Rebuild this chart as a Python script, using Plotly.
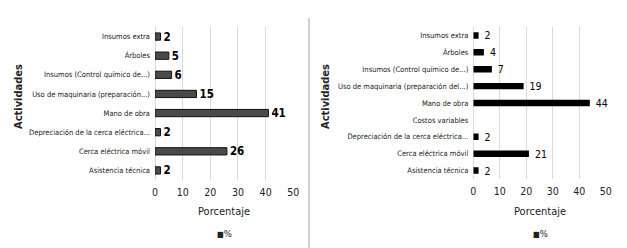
import plotly.graph_objects as go

# Left chart data (top to bottom)
left_cats = ["Insumos extra", "Árboles", "Insumos (Control químico de...)",
             "Uso de maquinaria (preparación...)", "Mano de obra",
             "Depreciación de la cerca eléctrica...", "Cerca eléctrica móvil",
             "Asistencia técnica"]
left_vals = [2, 5, 6, 15, 41, 2, 26, 2]

# Right chart data (top to bottom)
right_cats = ["Insumos extra", "Árboles", "Insumos (Control químico de...)",
              "Uso de maquinaria (preparación del...)", "Mano de obra",
              "Costos variables", "Depreciación de la cerca eléctrica...",
              "Cerca eléctrica móvil", "Asistencia técnica"]
right_vals = [2, 4, 7, 19, 44, None, 2, 21, 2]

x_ticks = [0, 10, 20, 30, 40, 50]

W, H = 627, 248
FONT = "DejaVu Sans Condensed, sans-serif"

def px(x):
    return x / W

def py(y):
    return 1 - y / H

fig = go.Figure()

fig.add_trace(go.Bar(
    x=left_vals, y=left_cats, orientation="h", xaxis="x", yaxis="y",
    marker=dict(color="#4a4a4a", line=dict(color="#111111", width=1)),
    width=0.38, text=[f"<b>{v}</b>" for v in left_vals], textposition="outside",
    constraintext="none",
    textfont=dict(size=11.5, color="black", family=FONT), cliponaxis=False,
    showlegend=False, name="%"))

fig.add_trace(go.Bar(
    x=right_vals, y=right_cats, orientation="h", xaxis="x2", yaxis="y2",
    marker=dict(color="black", line=dict(width=0)),
    width=0.38,
    text=[(" " + str(v)) if v is not None else "" for v in right_vals],
    textposition="outside", constraintext="none",
    textfont=dict(size=10.5, color="black", family=FONT), cliponaxis=False,
    showlegend=False, name="%"))

axis_common = dict(range=[0, 50], tickvals=x_ticks, showgrid=True,
                   gridcolor="#d9d9d9", gridwidth=1, zeroline=True,
                   zerolinecolor="#d9d9d9", zerolinewidth=1, showline=False,
                   ticks="", automargin=False, ticklabelstandoff=4,
                   tickfont=dict(size=10.5, color="#222", family=FONT),
                   fixedrange=True)
yaxis_common = dict(autorange="reversed", showgrid=False, zeroline=False,
                    showline=False, ticks="", type="category", automargin=False,
                    ticklabelstandoff=4,
                    tickfont=dict(size=7.5, color="#222", family=FONT))

fig.update_layout(
    width=W, height=H, margin=dict(l=0, r=0, t=0, b=0),
    paper_bgcolor="white", plot_bgcolor="white",
    font=dict(family=FONT, color="#222"),
    xaxis=dict(domain=[px(155), px(293.3)], anchor="y", **axis_common),
    yaxis=dict(domain=[py(180), py(27)], anchor="x", **yaxis_common),
    xaxis2=dict(domain=[px(473.3), px(605.7)], anchor="y2", **axis_common),
    yaxis2=dict(domain=[py(179), py(27)], anchor="x2", **yaxis_common),
)

ann = []
for cx in [224, 540]:
    ann.append(dict(x=px(cx), y=py(211), xref="paper", yref="paper",
                    xanchor="center", yanchor="middle",
                    text="Porcentaje", showarrow=False,
                    font=dict(size=11, color="#222", family=FONT)))
    ann.append(dict(x=px(cx), y=py(233), xref="paper", yref="paper",
                    xanchor="center", yanchor="middle",
                    text="<span style='font-size:8px'>■</span>%", showarrow=False,
                    font=dict(size=9.5, color="#222", family=FONT)))
for ax_x, cy in [(18, 97), (325, 97)]:
    ann.append(dict(x=px(ax_x), y=py(cy), xref="paper", yref="paper",
                    xanchor="center", yanchor="middle",
                    text="<b>Actividades</b>", textangle=-90, showarrow=False,
                    font=dict(size=11, color="#222", family=FONT)))
fig.update_layout(annotations=ann)

fig.add_shape(type="line", xref="paper", yref="paper",
              x0=px(309), x1=px(309), y0=0, y1=py(18),
              line=dict(color="#bfbfbf", width=1.5))

fig.write_html("out.html", config={"displayModeBar": False},
               post_script="document.body.style.margin='0';document.body.style.padding='0';")
